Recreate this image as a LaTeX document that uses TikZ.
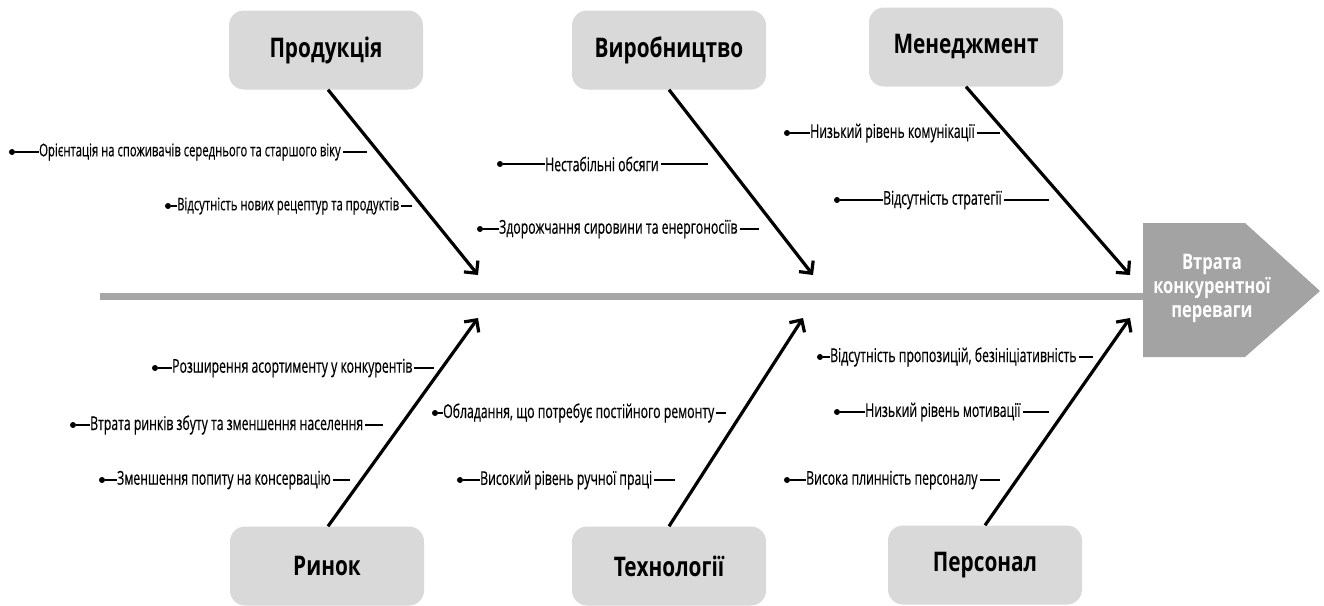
\documentclass[tikz,border=0pt]{standalone}
\usepackage{fontspec}
\setmainfont{Open Sans}[FakeStretch=0.645,FakeBold=0.4]
\newfontfamily\titlefont{Open Sans}[FakeStretch=0.77]
\usetikzlibrary{arrows.meta}
\definecolor{boxgray}{HTML}{D9D9D9}
\definecolor{spinegray}{HTML}{A6A6A6}
\definecolor{headgray}{HTML}{A3A3A3}
\tikzset{
 cat/.style={fill=boxgray, rounded corners=15pt, minimum width=194pt, minimum height=79pt, font=\titlefont\bfseries\fontsize{27}{30}\selectfont, inner sep=0pt},
 bone/.style={line width=3.2pt, -{Straight Barb[length=9pt,width=18pt]}},
 lt/.style={font=\fontsize{19}{21}\selectfont, inner sep=0pt, anchor=west},
 ltsmall/.style={font=\fontsize{17.5}{19}\selectfont},
 tick/.style={line width=1.5pt},
 dotnode/.style={circle, fill=black, inner sep=0pt, minimum size=6pt},
 spine/.style={line width=7pt, draw=spinegray},
 headtxt/.style={text=white, font=\titlefont\bfseries\fontsize{21.5}{24}\selectfont, align=center, inner sep=0pt},
}
\newcommand\causelabel[7][]{% [style], name, dot x, text x, y, text, dash length
  \node[dotnode] (#2d) at (#3,#5) {};
  \node[lt,#1] (#2) at (#4,#5) {#6};
  \draw[tick] (#2d) -- (#2.west);
  \coordinate (#2a) at ([xshift=2pt]#2.east);
  \draw[tick] (#2a) -- ++(#7,0);
}
\begin{document}
\begin{tikzpicture}[x=1pt,y=-1pt]
\useasboundingbox (0,0) rectangle (1324,605);
% spine and head
\coordinate (spst) at (100,296);
\coordinate (headL) at (1143,296);
\draw[spine] (spst) -- (headL);
\fill[headgray] (1143,223) -- (1245,223) -- (1320,291) -- (1245,357) -- (1143,357) -- cycle;
\node[headtxt] (head) at (1212,288) {Втрата\\конкурентної\\переваги};
% category boxes
\node[cat] (prod) at (326,50) {Продукція};
\node[cat] (vyr) at (669,50) {Виробництво};
\node[cat] (men) at (966,47) {Менеджмент};
\node[cat] (rynok) at (327,566) {Ринок};
\node[cat] (tech) at (669,566) {Технології};
\node[cat] (pers) at (985,565) {Персонал};
% arrow tips
\coordinate (t1) at (478,275);
\coordinate (t2) at (813,275);
\coordinate (t3) at (1130,275);
\coordinate (b1) at (478,318);
\coordinate (b2) at (803,318);
\coordinate (b3) at (1130,318);
\draw[bone] ([xshift=2pt]prod.south) -- (t1);
\draw[bone] (vyr.south) -- (t2);
\draw[bone] (men.south) -- (t3);
\draw[bone] ([xshift=1pt]rynok.north) -- (b1);
\draw[bone] (tech.north) -- (b2);
\draw[bone] (pers.north) -- (b3);
% cause labels
\causelabel[ltsmall]{l1}{12}{39}{152}{Орієнтація на споживачів середнього та старшого віку}{24}
\causelabel[ltsmall]{l2}{168}{177}{206}{Відсутність нових рецептур та продуктів}{11}
\causelabel{l3}{500}{545}{164}{Нестабільні обсяги}{47}
\causelabel{l4}{480}{499}{229}{Здорожчання сировини та енергоносіїв}{19}
\causelabel{l5}{787}{810}{133}{Низький рівень комунікації}{23}
\causelabel{l6}{837}{883}{200}{Відсутність стратегії}{45}
\causelabel{l7}{155}{172}{368}{Розширення асортименту у конкурентів}{20}
\causelabel{l8}{73}{90}{425}{Втрата ринків збуту та зменшення населення}{18}
\causelabel{l9}{102}{117}{480}{Зменшення попиту на консервацію}{17}
\causelabel{l10}{435}{443}{413}{Обладання, що потребує постійного ремонту}{10}
\causelabel{l11}{460}{480}{480}{Високий рівень ручної праці}{21}
\causelabel{l12}{820}{830}{357}{Відсутність пропозицій, безініціативність}{14}
\causelabel{l13}{837}{865}{412}{Низький рівень мотивації}{26}
\causelabel{l14}{787}{806}{480}{Висока плинність персоналу}{20}
\end{tikzpicture}
\end{document}
